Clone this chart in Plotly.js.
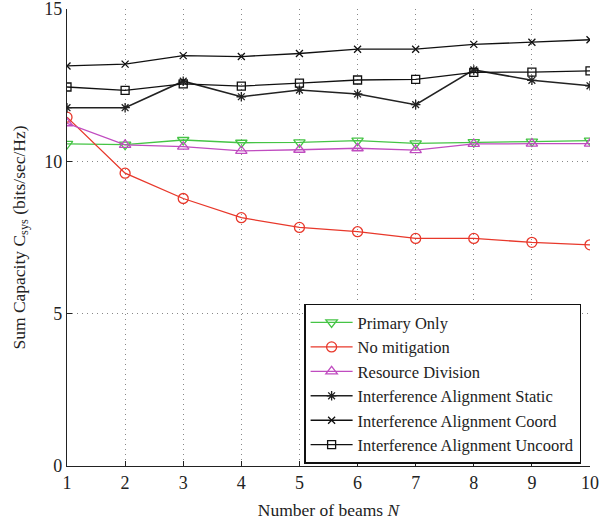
<!DOCTYPE html>
<html>
<head>
<meta charset="utf-8">
<script src="https://cdn.plot.ly/plotly-3.0.1.min.js"></script>
<style>html,body{margin:0;padding:0;background:#fff;}#chart{width:604px;height:527px;}</style>
</head>
<body>
<div id="chart"></div>
<script>
const beams = [1, 2, 3, 4, 5, 6, 7, 8, 9, 10];
const primaryOnly = [10.57, 10.55, 10.70, 10.61, 10.62, 10.68, 10.59, 10.63, 10.65, 10.68];
const noMitigation = [11.45, 9.61, 8.78, 8.15, 7.83, 7.69, 7.47, 7.47, 7.34, 7.26];
const resourceDivision = [11.25, 10.54, 10.48, 10.34, 10.38, 10.43, 10.37, 10.57, 10.58, 10.58];
const iaStatic = [11.76, 11.76, 12.63, 12.12, 12.34, 12.21, 11.86, 13.00, 12.66, 12.48];
const iaCoord = [13.13, 13.19, 13.47, 13.44, 13.54, 13.68, 13.68, 13.84, 13.91, 13.99];
const iaUncoord = [12.44, 12.33, 12.54, 12.47, 12.57, 12.67, 12.69, 12.92, 12.93, 12.97];
const seriesNames = ['Primary Only', 'No mitigation', 'Resource Division',
  'Interference Alignment Static', 'Interference Alignment Coord', 'Interference Alignment Uncoord'];
const xTicks = [1, 2, 3, 4, 5, 6, 7, 8, 9, 10];
const yTicks = [0, 5, 10, 15];

const FONT = 'Liberation Serif';

function tr(y, name, color, symbol, size, width) {
  return {
    x: beams, y: y, name: name, type: 'scatter', mode: 'lines+markers',
    line: {color: color, width: width},
    marker: {symbol: symbol, size: size, color: color, line: {color: color, width: 1.3}}
  };
}

const data = [
  tr(primaryOnly, seriesNames[0], '#45c445', 'triangle-down-open', 10, 1.3),
  tr(noMitigation, seriesNames[1], '#e8382b', 'circle-open', 10, 1.3),
  tr(resourceDivision, seriesNames[2], '#c04cc0', 'triangle-up-open', 10, 1.3),
  tr(iaStatic, seriesNames[3], '#222222', 'asterisk-open', 8, 1.6),
  tr(iaCoord, seriesNames[4], '#111111', 'x-thin-open', 7, 1.3),
  tr(iaUncoord, seriesNames[5], '#111111', 'square-open', 8, 1.3)
];

const layout = {
  width: 604, height: 527,
  margin: {l: 67, r: 14, t: 9, b: 61},
  paper_bgcolor: '#fff', plot_bgcolor: '#fff',
  font: {family: FONT, size: 16, color: '#222'},
  showlegend: true,
  legend: {
    x: 0.983, xanchor: 'right', y: 0.005, yanchor: 'bottom',
    bgcolor: '#fff', bordercolor: '#111', borderwidth: 1.5,
    font: {family: FONT, size: 16.5, color: '#222'},
    tracegroupgap: 0, itemwidth: 42
  },
  xaxis: {
    range: [1, 10], tickvals: xTicks, ticktext: xTicks.map(String),
    showline: true, linecolor: '#222', linewidth: 1.2, mirror: false,
    ticks: 'inside', ticklen: 5, tickcolor: '#222',
    showgrid: true, gridcolor: '#888', griddash: '1px,4px', gridwidth: 1,
    zeroline: false, ticklabeloverflow: 'allow',
    tickfont: {family: FONT, size: 18, color: '#222'},
    title: {text: 'Number of beams <i>N</i>', font: {family: FONT, size: 17.5, color: '#222'}, standoff: 12}
  },
  yaxis: {
    range: [0, 15], tickvals: yTicks, ticktext: yTicks.map(String),
    showline: true, linecolor: '#222', linewidth: 1.2, mirror: false,
    ticks: 'inside', ticklen: 5, tickcolor: '#222',
    showgrid: true, gridcolor: '#888', griddash: '1px,4px', gridwidth: 1,
    zeroline: false, ticklabeloverflow: 'allow',
    tickfont: {family: FONT, size: 18, color: '#222'},
    title: {text: 'Sum Capacity C<sub>sys</sub> (bits/sec/Hz)', font: {family: FONT, size: 17.5, color: '#222'}, standoff: 14}
  }
};

Plotly.newPlot('chart', data, layout, {displayModeBar: false, staticPlot: true});
</script>
</body>
</html>
